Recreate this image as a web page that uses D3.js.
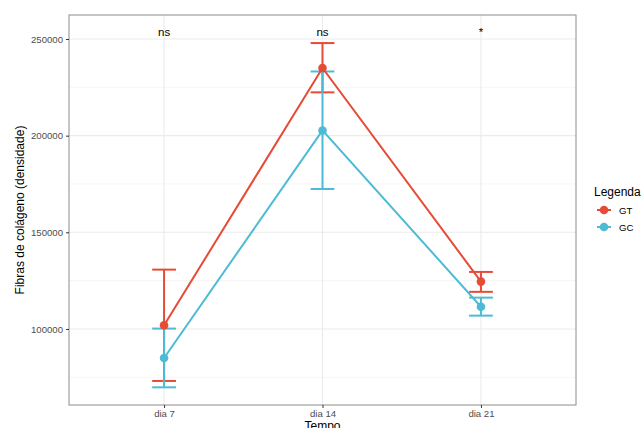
<!DOCTYPE html>
<html lang="en">
<head>
<meta charset="UTF-8">
<title>Fibras de colágeno</title>
<script src="https://d3js.org/d3.v7.min.js"></script>
<style>
    body { margin: 0; background: #ffffff; font-family: 'Liberation Sans', Arial, sans-serif; }
    #chart svg { display: block; }
</style>
</head>
<body>
<div id="chart"></div>
<script>
// data
const categories = ["dia 7", "dia 14", "dia 21"];
const groups = ["GT", "GC"];
const meanGT = [101900, 235000, 124500];
const lowGT = [73100, 222400, 119200];
const highGT = [130700, 247900, 129500];
const meanGC = [85000, 202700, 111500];
const lowGC = [69800, 172400, 106900];
const highGC = [100200, 233200, 116200];
const signif = ["ns", "ns", "*"];
const yTicks = [100000, 150000, 200000, 250000];
const yMinor = [75000, 125000, 175000, 225000];
const colors = { GT: "#E64B35", GC: "#4DBBD5" };

const W = 643, H = 428;
const panel = { left: 69, right: 576, top: 15, bottom: 405 };

const svg = d3.select("#chart").append("svg")
    .attr("width", W).attr("height", H);

// discrete x axis with ggplot-like 0.6 expansion
const x = d3.scalePoint().domain(categories)
    .range([panel.left, panel.right]).padding(0.6);
const y = d3.scaleLinear().domain([60660, 262420])
    .range([panel.bottom, panel.top]);

const series = [
    { name: "GT", mean: meanGT, low: lowGT, high: highGT },
    { name: "GC", mean: meanGC, low: lowGC, high: highGC }
];

// grid
const grid = svg.append("g");
grid.selectAll(".minor").data(yMinor).enter().append("line")
    .attr("x1", panel.left).attr("x2", panel.right)
    .attr("y1", d => y(d)).attr("y2", d => y(d))
    .attr("stroke", "#F2F2F2").attr("stroke-width", 0.8);
grid.selectAll(".major").data(yTicks).enter().append("line")
    .attr("x1", panel.left).attr("x2", panel.right)
    .attr("y1", d => y(d)).attr("y2", d => y(d))
    .attr("stroke", "#EBEBEB").attr("stroke-width", 1.1);
grid.selectAll(".vmajor").data(categories).enter().append("line")
    .attr("x1", d => x(d)).attr("x2", d => x(d))
    .attr("y1", panel.top).attr("y2", panel.bottom)
    .attr("stroke", "#EBEBEB").attr("stroke-width", 1.1);

// error bars
const capHalf = x.step() * 0.075;
series.forEach(s => {
    const g = svg.append("g").attr("stroke", colors[s.name])
        .attr("stroke-width", 2).attr("fill", "none");
    categories.forEach((c, i) => {
        const cx = x(c);
        g.append("line").attr("x1", cx).attr("x2", cx)
            .attr("y1", y(s.low[i])).attr("y2", y(s.high[i]));
        g.append("line").attr("x1", cx - capHalf).attr("x2", cx + capHalf)
            .attr("y1", y(s.low[i])).attr("y2", y(s.low[i]));
        g.append("line").attr("x1", cx - capHalf).attr("x2", cx + capHalf)
            .attr("y1", y(s.high[i])).attr("y2", y(s.high[i]));
    });
});

// lines
const line = d3.line().x((d, i) => x(categories[i])).y(d => y(d));
series.forEach(s => {
    svg.append("path").datum(s.mean)
        .attr("d", line)
        .attr("fill", "none")
        .attr("stroke", colors[s.name])
        .attr("stroke-width", 2);
});

// points
series.forEach(s => {
    svg.append("g").selectAll("circle").data(s.mean).enter().append("circle")
        .attr("cx", (d, i) => x(categories[i]))
        .attr("cy", d => y(d))
        .attr("r", 4.3)
        .attr("fill", colors[s.name]);
});

// significance labels
svg.append("g").selectAll("text").data(signif).enter().append("text")
    .attr("x", (d, i) => x(categories[i]))
    .attr("y", (d, i) => y(251500))
    .attr("text-anchor", "middle")
    .attr("font-size", 11.5)
    .attr("fill", "#000")
    .text(d => d);

// panel border
svg.append("rect")
    .attr("x", panel.left).attr("y", panel.top)
    .attr("width", panel.right - panel.left)
    .attr("height", panel.bottom - panel.top)
    .attr("fill", "none").attr("stroke", "#8C8C8C").attr("stroke-width", 1);

// axes
const yAxis = svg.append("g")
    .attr("transform", `translate(${panel.left},0)`)
    .call(d3.axisLeft(y).tickValues(yTicks).tickSize(3).tickPadding(3).tickFormat(d3.format("d")));
const xAxis = svg.append("g")
    .attr("transform", `translate(0,${panel.bottom})`)
    .call(d3.axisBottom(x).tickSize(3).tickPadding(2));
[yAxis, xAxis].forEach(a => {
    a.select(".domain").remove();
    a.selectAll(".tick line").attr("stroke", "#333333");
    a.selectAll(".tick text").attr("fill", "#4D4D4D")
        .attr("font-size", 9.6)
        .attr("font-family", "'Liberation Sans', Arial, sans-serif");
});

// axis titles
svg.append("text")
    .attr("x", (panel.left + panel.right) / 2).attr("y", 430)
    .attr("text-anchor", "middle").attr("font-size", 12)
    .attr("fill", "#000").text("Tempo");
svg.append("text")
    .attr("transform", `translate(24,${(panel.top + panel.bottom) / 2}) rotate(-90)`)
    .attr("text-anchor", "middle").attr("font-size", 12)
    .attr("fill", "#000").text("Fibras de colágeno (densidade)");

// legend
const legend = svg.append("g").attr("transform", "translate(594,0)");
legend.append("text").attr("x", 0).attr("y", 196)
    .attr("font-size", 12).attr("fill", "#000").text("Legenda");
groups.forEach((gname, i) => {
    const ly = 210 + i * 17;
    legend.append("line").attr("x1", 3).attr("x2", 17)
        .attr("y1", ly).attr("y2", ly)
        .attr("stroke", colors[gname]).attr("stroke-width", 2);
    legend.append("circle").attr("cx", 10).attr("cy", ly).attr("r", 4.3)
        .attr("fill", colors[gname]);
    legend.append("text").attr("x", 25).attr("y", ly + 3.5)
        .attr("font-size", 9.6).attr("fill", "#000").text(gname);
});
</script>
</body>
</html>
